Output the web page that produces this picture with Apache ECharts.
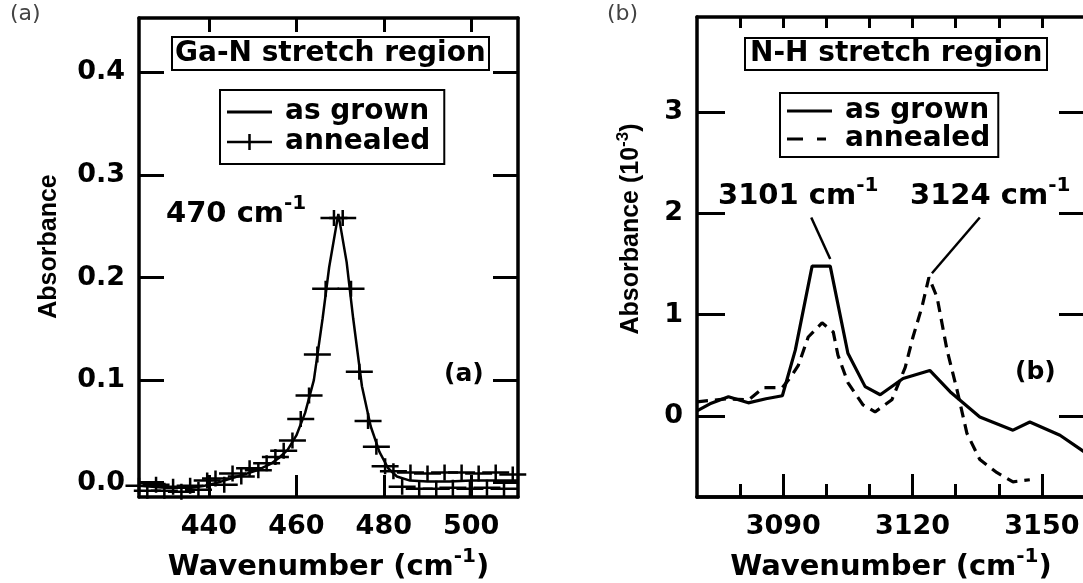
<!DOCTYPE html>
<html><head><meta charset="utf-8">
<script src="https://cdn.jsdelivr.net/npm/echarts@6/dist/echarts.min.js"></script>
<style>html,body{margin:0;padding:0;background:#fff}#c{width:1083px;height:583px}</style>
</head><body><div id="c"></div>
<script>
// ---------- Panel (a): Ga-N stretch region ----------
const aGrownX = [424, 427, 430, 433, 436, 439, 442, 445, 448, 451, 454, 456, 458, 460, 462, 464, 466, 467.5, 469.6, 471.5, 473, 475, 477, 479, 481, 483, 486, 490, 495, 500, 505, 510.7];
const aGrownY = [-0.003, -0.004, -0.005, -0.005, -0.005, -0.003, 0.000, 0.004, 0.008, 0.012, 0.018, 0.024, 0.032, 0.046, 0.068, 0.100, 0.160, 0.210, 0.262, 0.215, 0.160, 0.094, 0.055, 0.030, 0.014, 0.006, 0.002, 0.001, 0.001, 0.002, 0.002, 0.002];
const aAnnealX = [424.0, 425.9, 427.9, 429.8, 431.8, 433.7, 435.7, 437.6, 439.6, 441.5, 443.5, 445.4, 447.4, 449.3, 451.3, 453.2, 455.2, 457.1, 459.1, 461.0, 462.9, 464.8, 466.7, 468.6, 470.6, 472.5, 474.4, 476.4, 478.3, 480.3, 482.2, 484.2, 486.1, 488.1, 490.0, 492.0, 493.9, 495.8, 497.8, 499.7, 501.7, 503.6, 505.6, 507.5, 509.5];
const aAnnealY = [-0.003, -0.008, -0.002, -0.008, -0.004, -0.009, -0.003, -0.007, 0.002, 0.004, -0.002, 0.009, 0.006, 0.014, 0.012, 0.019, 0.025, 0.031, 0.041, 0.062, 0.085, 0.125, 0.189, 0.258, 0.258, 0.189, 0.108, 0.060, 0.035, 0.016, 0.011, -0.004, 0.010, -0.006, 0.009, -0.006, 0.010, -0.005, 0.010, -0.006, 0.009, -0.005, 0.010, -0.006, 0.008];
const aXTicks = [440, 460, 480, 500];
const aYTicks = [0, 0.1, 0.2, 0.3, 0.4];

// ---------- Panel (b): N-H stretch region (units of 1e-3) ----------
const bGrownX = [3070, 3073, 3077.3, 3081.9, 3086, 3089.8, 3092.8, 3096.7, 3100.9, 3105, 3109, 3112.5, 3117.8, 3124, 3128.7, 3135.6, 3143.3, 3147.2, 3154.2, 3160];
const bGrownY = [0.05, 0.12, 0.19, 0.13, 0.17, 0.20, 0.65, 1.48, 1.48, 0.62, 0.29, 0.21, 0.37, 0.45, 0.24, -0.01, -0.14, -0.06, -0.19, -0.36];
const bAnnealX = [3070, 3077, 3082, 3085.4, 3089.8, 3092, 3093.5, 3095.8, 3099, 3101.6, 3102.7, 3105, 3108.5, 3111.3, 3115.2, 3118.3, 3120.1, 3122.2, 3123.8, 3125.7, 3128, 3130.3, 3132.6, 3135.6, 3139.6, 3143.3, 3147.2];
const bAnnealY = [0.14, 0.17, 0.16, 0.28, 0.28, 0.40, 0.50, 0.78, 0.92, 0.83, 0.60, 0.33, 0.11, 0.04, 0.16, 0.48, 0.78, 1.08, 1.37, 1.17, 0.65, 0.26, -0.17, -0.43, -0.56, -0.65, -0.63];
const bXMajor = [3090, 3120, 3150];
const bXMinor = [3080, 3100, 3110, 3130, 3140];
const bXTop = [3080, 3090, 3100, 3110, 3120, 3130, 3140, 3150];
const bYTicks = [0, 1, 2, 3];
const leader3101 = [[3096.5, 1.96], [3100.9, 1.55]];
const leader3124 = [[3135.6, 1.96], [3124.5, 1.41]];

const zip = (xs, ys) => xs.map((x, i) => [x, ys[i]]);
const F = 'DejaVu Sans';
const crossPath = 'path://M0,6.75h27v2.5h-27z M12.25,0h2.5v16h-2.5z';
const crossLegend = 'path://M0,6.75h45v2.5h-45z M21.25,0h2.5v16h-2.5z';
const solidLegend = 'path://M0,0h0.01v0.01h-0.01z M0,6.5h45v3h-45z M44.99,15.99h0.01v0.01h-0.01z';
const dashLegend = 'path://M0,0h0.01v0.01h-0.01z M0,6.5h16v3h-16z M30,6.5h9v3h-9z M44.99,15.99h0.01v0.01h-0.01z';

const lbl = {color: '#000', fontFamily: F, fontWeight: 'bold', fontSize: 27};
const line = {show: true, onZero: false, lineStyle: {color: '#000', width: 3.5}};
function xAx(grid, pos, min, max, ticks, len, labels) {
  return {type: 'value', gridIndex: grid, position: pos, min: min, max: max,
    axisLine: line, splitLine: {show: false},
    axisTick: {show: true, inside: true, length: len, customValues: ticks, lineStyle: {color: '#000', width: 3}},
    axisLabel: labels ? Object.assign({show: true, margin: 16, customValues: ticks, formatter: v => String(v)}, lbl) : {show: false}};
}
function yAx(grid, pos, min, max, ticks, len, labels, fmt) {
  return {type: 'value', gridIndex: grid, position: pos, min: min, max: max,
    axisLine: line, splitLine: {show: false},
    axisTick: {show: true, inside: true, length: len, customValues: ticks, lineStyle: {color: '#000', width: 3}},
    axisLabel: labels ? Object.assign({show: true, margin: 14, customValues: ticks, formatter: fmt}, lbl) : {show: false}};
}
const nameRich = {
  m: {fontFamily: F, fontWeight: 'bold', fontSize: 29, color: '#000', lineHeight: 40},
  s: {fontFamily: F, fontWeight: 'bold', fontSize: 20, color: '#000', lineHeight: 20, verticalAlign: 'top'}
};
const vRich = {
  m: {fontFamily: 'Liberation Sans', fontWeight: 'bold', fontSize: 25, color: '#000', lineHeight: 32},
  s: {fontFamily: 'Liberation Sans', fontWeight: 'bold', fontSize: 17, color: '#000', lineHeight: 16, verticalAlign: 'top'}
};

const xAxes = [
  xAx(0, 'bottom', 424, 510.7, aXTicks, 22, true),
  xAx(0, 'top', 424, 510.7, aXTicks, 14, false),
  xAx(1, 'bottom', 3070, 3160, bXMajor, 23, true),
  xAx(1, 'bottom', 3070, 3160, bXMinor, 13, false),
  xAx(1, 'top', 3070, 3160, bXTop, 11, false)
];
Object.assign(xAxes[0], {name: '{m|Wavenumber (cm}{s|-1}{m|)}', nameLocation: 'middle', nameGap: 50, nameTextStyle: {rich: nameRich}});
Object.assign(xAxes[2], {name: '{m|Wavenumber (cm}{s|-1}{m|)}', nameLocation: 'middle', nameGap: 50, nameTextStyle: {rich: nameRich}});

const yAxes = [
  yAx(0, 'left', -0.014, 0.453, aYTicks, 25, true, v => v.toFixed(1)),
  yAx(0, 'right', -0.014, 0.453, aYTicks, 25, false),
  yAx(1, 'left', -0.80, 3.94, bYTicks, 28, true, v => String(v)),
  yAx(1, 'right', -0.80, 3.94, bYTicks, 26, false)
];
Object.assign(yAxes[0], {name: '{m|Absorbance}', nameLocation: 'middle', nameGap: 74,
  nameTextStyle: {rich: vRich, padding: [0, 0, 0, 22]}});
Object.assign(yAxes[2], {name: '{m|Absorbance (10}{s|-3}{m|)}', nameLocation: 'middle', nameGap: 50,
  nameTextStyle: {rich: vRich, padding: [0, 0, 0, 56]}});

const legendText = {color: '#000', fontFamily: F, fontWeight: 'bold', fontSize: 28, padding: [0, 0, 0, 8]};
const stripName = n => n.replace(/ \(b\)$/, '');

const option = {
  animation: false,
  backgroundColor: '#fff',
  grid: [
    {left: 139, top: 18, width: 379, height: 479, outerBoundsMode: 'none', containLabel: false},
    {left: 697, top: 17, width: 388, height: 480, outerBoundsMode: 'none', containLabel: false}
  ],
  xAxis: xAxes,
  yAxis: yAxes,
  title: [
    {text: 'Ga-N stretch region', left: 172, top: 37, borderColor: '#000', borderWidth: 2, padding: [1, 3, 1, 3],
      textStyle: {fontFamily: F, fontWeight: 'bold', fontSize: 28, color: '#000', lineHeight: 31}},
    {text: 'N-H stretch region', left: 745, top: 38, borderColor: '#000', borderWidth: 2, padding: [1, 5, 1, 5],
      textStyle: {fontFamily: F, fontWeight: 'bold', fontSize: 28, color: '#000', lineHeight: 30}}
  ],
  legend: [
    {data: [{name: 'as grown', icon: solidLegend}, {name: 'annealed', icon: crossLegend}], orient: 'vertical', left: 220, top: 90,
      borderColor: '#000', borderWidth: 2, padding: [8, 14, 8, 7], itemGap: 2, itemWidth: 45, itemHeight: 16,
      textStyle: legendText, selectedMode: false, itemStyle: {color: '#000', opacity: 1}},
    {data: [{name: 'as grown (b)', icon: solidLegend}, {name: 'annealed (b)', icon: dashLegend}], orient: 'vertical', left: 780, top: 93,
      borderColor: '#000', borderWidth: 2, padding: [4, 8, 4, 7], itemGap: 0, itemWidth: 45, itemHeight: 16,
      formatter: stripName, textStyle: legendText, selectedMode: false, itemStyle: {color: '#000', opacity: 1}}
  ],
  series: [
    {name: 'as grown', type: 'line', xAxisIndex: 0, yAxisIndex: 0, data: zip(aGrownX, aGrownY), symbol: 'none',
      lineStyle: {color: '#000', width: 2.5}, itemStyle: {color: '#000'}, z: 2},
    {name: 'annealed', type: 'scatter', xAxisIndex: 0, yAxisIndex: 0, data: zip(aAnnealX, aAnnealY), symbol: crossPath,
      symbolSize: [27, 16], itemStyle: {color: '#000', opacity: 1}, z: 3},
    {name: 'as grown (b)', type: 'line', xAxisIndex: 2, yAxisIndex: 2, data: zip(bGrownX, bGrownY), symbol: 'none',
      lineStyle: {color: '#000', width: 3.2}, itemStyle: {color: '#000'}, z: 3},
    {name: 'annealed (b)', type: 'line', xAxisIndex: 2, yAxisIndex: 2, data: zip(bAnnealX, bAnnealY), symbol: 'none',
      lineStyle: {color: '#000', width: 3.2, type: [11, 7]}, itemStyle: {color: '#000'}, z: 2},
    {name: 'leader1', type: 'line', xAxisIndex: 2, yAxisIndex: 2, data: leader3101, symbol: 'none',
      lineStyle: {color: '#000', width: 2.5}, silent: true},
    {name: 'leader2', type: 'line', xAxisIndex: 2, yAxisIndex: 2, data: leader3124, symbol: 'none',
      lineStyle: {color: '#000', width: 2.5}, silent: true}
  ],
  graphic: [
    {type: 'text', left: 10, top: 3, style: {text: '(a)', fontFamily: F, fontSize: 22, fill: '#444'}},
    {type: 'text', left: 607, top: 3, style: {text: '(b)', fontFamily: F, fontSize: 22, fill: '#444'}},
    {type: 'text', left: 166, top: 194, style: {text: '{m|470 cm}{s|-1}', rich: nameRich}},
    {type: 'text', left: 718, top: 176, style: {text: '{m|3101 cm}{s|-1}', rich: nameRich}},
    {type: 'text', left: 910, top: 176, style: {text: '{m|3124 cm}{s|-1}', rich: nameRich}},
    {type: 'text', left: 444, top: 362, style: {text: '(a)', fontFamily: F, fontWeight: 'bold', fontSize: 25, fill: '#000'}},
    {type: 'text', left: 1015, top: 360, style: {text: '(b)', fontFamily: F, fontWeight: 'bold', fontSize: 25, fill: '#000'}}
  ]
};
const chart = echarts.init(document.getElementById('c'), null, {renderer: 'canvas'});
chart.setOption(option);
</script></body></html>
